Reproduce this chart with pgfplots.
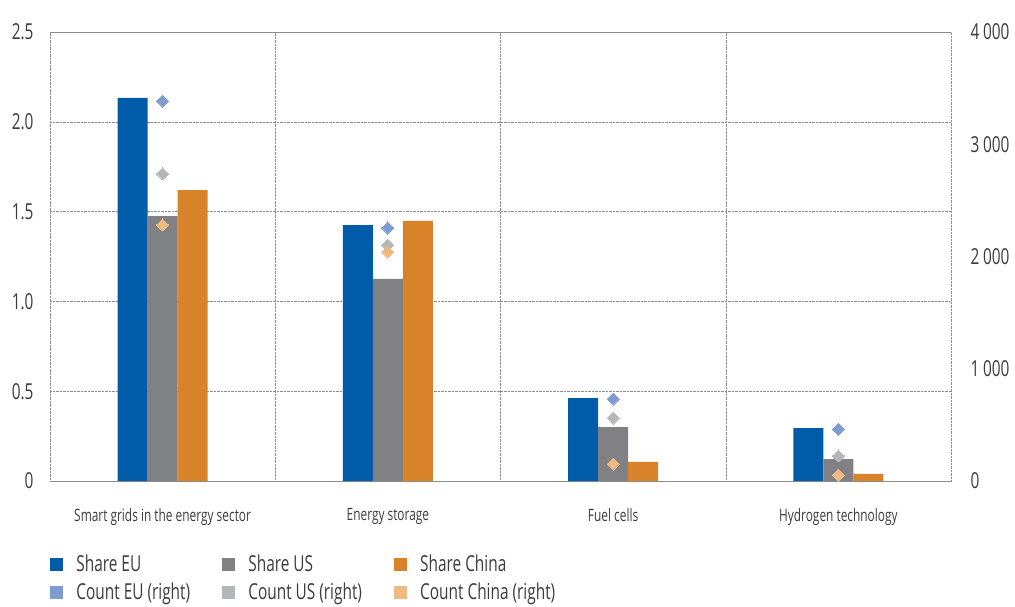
\documentclass[border=0pt]{standalone}
\usepackage{pgfplots}
\pgfplotsset{compat=1.18}
\usepackage{fontspec}
\setmainfont{Open Sans}[FakeStretch=0.7]
\definecolor{cEU}{HTML}{005BA9}
\definecolor{cUS}{HTML}{808184}
\definecolor{cCN}{HTML}{D8832A}
\definecolor{lEU}{HTML}{7F9BCF}
\definecolor{lUS}{HTML}{B5B6B9}
\definecolor{lCN}{HTML}{EDBA84}
\definecolor{txt}{HTML}{3C3C3C}
\definecolor{grd}{HTML}{8C8C8C}
\begin{document}
\begin{tikzpicture}
\pgfplotsset{
  common/.style={
    scale only axis, width=901pt, height=449pt,
    xmin=-0.5, xmax=3.5,
    major tick length=0pt, minor tick length=0pt,
    /pgf/number format/assume math mode=true,
    tick label style={font=\fontsize{22}{24}\selectfont, color=txt},
  }
}
\begin{axis}[common, name=main,
  ybar=0pt, bar width=30pt,
  ymin=0, ymax=2.5,
  ytick={0,0.5,1,1.5,2,2.5},
  yticklabels={0,0.5,1.0,1.5,2.0,2.5},
  yticklabel style={xshift=-13pt},
  xtick={0,1,2,3},
  xticklabels={Smart grids in the energy sector, Energy storage, Fuel cells, Hydrogen technology},
  xticklabel style={font=\fontsize{17}{19}\selectfont, yshift=-24pt},
  minor xtick={0.5,1.5,2.5},
  ymajorgrids, xminorgrids,
  grid style={densely dotted, grd},
  axis line style={densely dotted, grd},
]
\addplot[fill=cEU, draw=none] coordinates {(0,2.133) (1,1.425) (2,0.462) (3,0.295)};
\addplot[fill=cUS, draw=none] coordinates {(0,1.475) (1,1.125) (2,0.300) (3,0.122)};
\addplot[fill=cCN, draw=none] coordinates {(0,1.620) (1,1.448) (2,0.106) (3,0.039)};
\end{axis}
\begin{axis}[common,
  ymin=0, ymax=4000,
  ytick={0,1000,2000,3000,4000},
  yticklabels={0,1\,000,2\,000,3\,000,4\,000},
  yticklabel pos=right,
  yticklabel style={xshift=16pt, anchor=west},
  xtick=\empty,
  axis line style={draw=none},
  legend columns=3,
  legend style={at={(0,-0.16)}, anchor=north west, draw=none, fill=none, inner sep=0pt,
    font=\fontsize{22}{24}\selectfont, text=txt,
    /tikz/every even column/.append style={column sep=30pt},
    row sep=6pt},
  legend cell align=left,
]
\addlegendimage{legend image code/.code={\fill[cEU] (0pt,-6pt) rectangle (12pt,6pt); \path[draw=none,fill=none] (0pt,0pt) -- (24pt,0pt);}}
\addlegendentry{Share EU}
\addlegendimage{legend image code/.code={\fill[cUS] (0pt,-6pt) rectangle (12pt,6pt); \path[draw=none,fill=none] (0pt,0pt) -- (24pt,0pt);}}
\addlegendentry{Share US}
\addlegendimage{legend image code/.code={\fill[cCN] (0pt,-6pt) rectangle (12pt,6pt); \path[draw=none,fill=none] (0pt,0pt) -- (24pt,0pt);}}
\addlegendentry{Share China}
\addplot[only marks, color=lEU, mark=square*, mark size=4.25pt, mark options={rotate=45, fill=lEU, draw=lEU, line width=0pt},
  legend image code/.code={\fill[lEU] (0pt,-6pt) rectangle (12pt,6pt); \path[draw=none,fill=none] (0pt,0pt) -- (24pt,0pt);}]
  coordinates {(0,3385) (1,2254) (2,730) (3,463)};
\addlegendentry{Count EU (right)}
\addplot[only marks, color=lUS, mark=square*, mark size=4.25pt, mark options={rotate=45, fill=lUS, draw=lUS, line width=0pt},
  legend image code/.code={\fill[lUS] (0pt,-6pt) rectangle (12pt,6pt); \path[draw=none,fill=none] (0pt,0pt) -- (24pt,0pt);}]
  coordinates {(0,2738) (1,2102) (2,561) (3,223)};
\addlegendentry{Count US (right)}
\addplot[only marks, color=lCN, mark=square*, mark size=4.25pt, mark options={rotate=45, fill=lCN, draw=lCN, line width=0pt},
  legend image code/.code={\fill[lCN] (0pt,-6pt) rectangle (12pt,6pt); \path[draw=none,fill=none] (0pt,0pt) -- (24pt,0pt);}]
  coordinates {(0,2281) (1,2040) (2,151) (3,53)};
\addlegendentry{Count China (right)}
\end{axis}
\path (main.south west) ++(-50pt,-125pt) rectangle ++(1015pt,606pt);
\end{tikzpicture}
\end{document}
